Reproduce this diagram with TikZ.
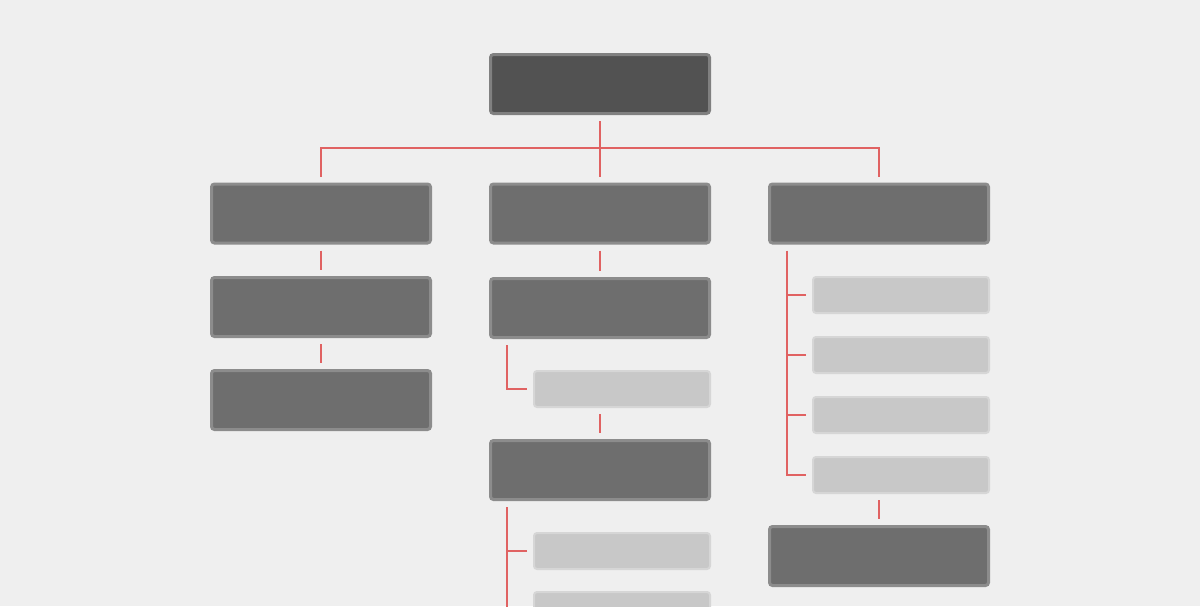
\documentclass[tikz,border=0pt]{standalone}
\usetikzlibrary{positioning, calc}

\definecolor{bg}{HTML}{EFEFEF}
\definecolor{headfill}{HTML}{525252}
\definecolor{headline}{HTML}{808080}
\definecolor{boxfill}{HTML}{6E6E6E}
\definecolor{boxline}{HTML}{8C8C8C}
\definecolor{leaffill}{HTML}{C8C8C8}
\definecolor{leafline}{HTML}{D6D6D6}
\definecolor{link}{HTML}{E06262}

\tikzset{
  headbox/.style={draw=headline, fill=headfill, line width=3pt, rounded corners=3pt,
    minimum width=219pt, minimum height=59pt, inner sep=0pt, outer sep=7.5pt},
  darkbox/.style={draw=boxline, fill=boxfill, line width=3pt, rounded corners=3pt,
    minimum width=219pt, minimum height=59pt, inner sep=0pt, outer sep=7.5pt},
  leafbox/.style={draw=leafline, fill=leaffill, line width=2pt, rounded corners=3pt,
    minimum width=176pt, minimum height=36pt, inner sep=0pt, outer sep=7pt},
  wire/.style={link, line width=1.6pt}
}

\begin{document}
\begin{tikzpicture}[x=1pt, y=-1pt]
    \useasboundingbox (0,0) rectangle (1200,606);
    \fill[bg] (0,0) rectangle (1200,606);
    \clip (0,0) rectangle (1200,606);

    % root
    \node[headbox] (Root) at (600,84) {};

    % first level
    \node[darkbox] (L1) at (321,213.5) {};
    \node[darkbox] (M1) at (600,213.5) {};
    \node[darkbox] (R1) at (879,213.5) {};

    % left column
    \node[darkbox] (L2) at (321,307) {};
    \node[darkbox] (L3) at (321,400) {};

    % middle column
    \node[darkbox] (M2) at (600,308) {};
    \node[leafbox] (ML1) at (622,389) {};
    \node[darkbox] (M3) at (600,470) {};
    \node[leafbox] (ML2) at (622,551) {};
    \node[leafbox] (ML3) at (622,610) {};

    % right column
    \foreach \i/\y in {1/295, 2/355, 3/415, 4/475}
        \node[leafbox] (RL\i) at (901,\y) {};
    \node[darkbox] (R2) at (879,556) {};

    % links
    \draw[wire] (Root.south) -- (M1.north);
    \draw[wire] (L1.north) -- ++(0,-28.5) -| (R1.north);

    \draw[wire] (L1) -- (L2);
    \draw[wire] (L2) -- (L3);

    \draw[wire] (M1) -- (M2);
    \draw[wire] ([xshift=24pt]M2.south west) |- (ML1.west);
    \draw[wire] (ML1.south -| M3.north) -- (M3.north);
    \coordinate (MT) at ([xshift=24pt]M3.south west);
    \draw[wire] (MT) -- (MT |- ML3.south);
    \draw[wire] (ML2.west) -- (ML2.west -| MT);

    \coordinate (RT) at ([xshift=25pt]R1.south west);
    \draw[wire] (RT) |- (RL4.west);
    \foreach \i in {1,2,3}
        \draw[wire] (RL\i.west) -- (RL\i.west -| RT);
    \draw[wire] (RL4.south -| R2.north) -- (R2.north);
\end{tikzpicture}
\end{document}
